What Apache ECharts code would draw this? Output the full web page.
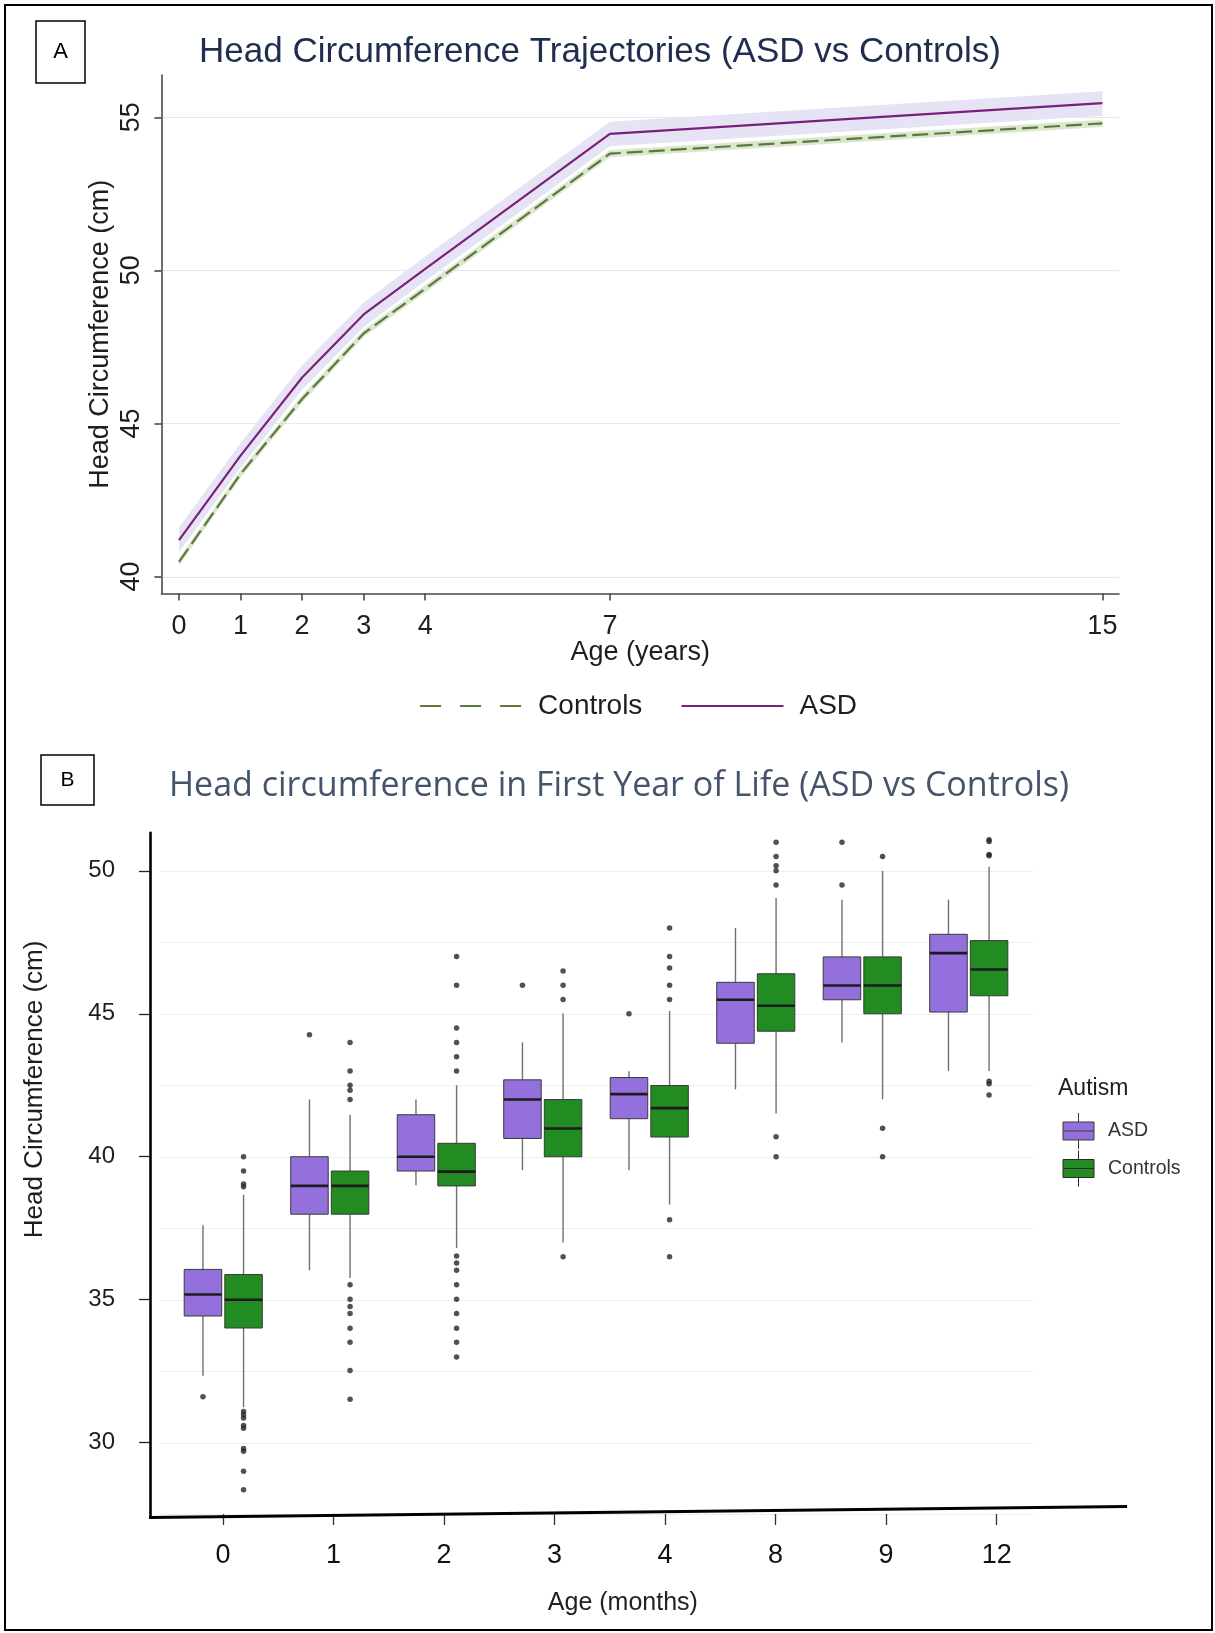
<!DOCTYPE html>
<html>
<head>
<meta charset="utf-8">
<script src="https://cdn.jsdelivr.net/npm/echarts@6/dist/echarts.min.js"></script>
<style>
  html, body { margin: 0; padding: 0; background: #fff; }
  #chart { width: 1215px; height: 1633px; }
</style>
</head>
<body>
<div id="chart"></div>
<script>
// ---- Panel A: head circumference trajectories by age (years) ----
const ageYears  = [0, 1, 2, 3, 4, 7, 15];
const asdMean   = [41.19, 43.95, 46.5, 48.56, 50.05, 54.46, 55.46];
const asdLow    = [40.8, 43.55, 46.1, 48.15, 49.65, 54.05, 55.05];
const asdHigh   = [41.6, 44.35, 46.9, 48.95, 50.45, 54.85, 55.85];
const ctrlMean  = [40.48, 43.35, 45.8, 47.94, 49.4, 53.81, 54.8];
const ctrlLow   = [40.36, 43.23, 45.68, 47.82, 49.28, 53.69, 54.68];
const ctrlHigh  = [40.6, 43.47, 45.92, 48.06, 49.52, 53.93, 54.92];
const yearTicks = [0, 1, 2, 3, 4, 7, 15];
const cmTicksA  = [40, 45, 50, 55];

// ---- Panel B: head circumference in the first year (months) ----
const monthCats = ['0', '1', '2', '3', '4', '8', '9', '12'];
// [lower whisker, Q1, median, Q3, upper whisker]
const asdBox = [
  [32.34, 34.43, 35.18, 36.06, 37.6],
  [36.03, 37.99, 38.98, 40.0, 42.0],
  [39.0, 39.5, 40.0, 41.47, 42.0],
  [39.53, 40.64, 42.0, 42.69, 44.0],
  [39.53, 41.33, 42.19, 42.77, 42.99],
  [42.36, 43.97, 45.49, 46.1, 48.0],
  [44.0, 45.49, 45.99, 46.99, 48.99],
  [43.0, 45.06, 47.12, 47.78, 48.99]
];
const ctrlBox = [
  [31.24, 34.01, 35.0, 35.88, 38.67],
  [35.76, 37.99, 38.98, 39.5, 41.47],
  [36.81, 38.98, 39.48, 40.47, 42.5],
  [37.0, 40.0, 40.99, 42.0, 45.01],
  [38.33, 40.69, 41.7, 42.49, 45.1],
  [41.51, 44.39, 45.28, 46.4, 49.05],
  [42.01, 45.0, 45.99, 46.99, 50.0],
  [43.0, 45.63, 46.55, 47.56, 50.14]
];
// [category index, value]
const asdOutliers = [
  [0, 31.61], [1, 44.27], [3, 46.0], [4, 45.0], [6, 51.0], [6, 49.5]
];
const ctrlOutliers = [
  [0, 40.0], [0, 39.5], [0, 39.05], [0, 38.95], [0, 31.09], [0, 30.98], [0, 30.86],
  [0, 30.6], [0, 30.5], [0, 29.8], [0, 29.7], [0, 29.0], [0, 28.35],
  [1, 44.0], [1, 43.0], [1, 42.5], [1, 42.33], [1, 42.0], [1, 35.52], [1, 35.02],
  [1, 34.76], [1, 34.52], [1, 34.0], [1, 33.51], [1, 32.52], [1, 31.52],
  [2, 47.0], [2, 46.0], [2, 44.5], [2, 44.0], [2, 43.5], [2, 43.0], [2, 36.53],
  [2, 36.28], [2, 36.03], [2, 35.52], [2, 35.02], [2, 34.52], [2, 34.0], [2, 33.51], [2, 33.0],
  [3, 46.5], [3, 46.0], [3, 45.5], [3, 36.5],
  [4, 48.0], [4, 47.0], [4, 46.6], [4, 46.0], [4, 45.5], [4, 37.8], [4, 36.5],
  [5, 51.0], [5, 50.5], [5, 50.18], [5, 50.0], [5, 49.5], [5, 40.7], [5, 40.0],
  [6, 50.5], [6, 41.0], [6, 40.0],
  [7, 51.09], [7, 51.03], [7, 50.57], [7, 50.53], [7, 42.64], [7, 42.55], [7, 42.16]
];
const cmTicksB = [30, 35, 40, 45, 50];
const cmGridB  = [27.5, 30, 32.5, 35, 37.5, 40, 42.5, 45, 47.5, 50];

const FONT = 'Liberation Sans, Arial, sans-serif';
const ASD_FILL = '#9370DB';
const CTRL_FILL = '#228B22';
const BOX_SHIFT_PX = 20.3;   // horizontal offset of each group's box from the category centre
const BOX_WIDTH_PX = 37.5;

// Shaded confidence band drawn as one polygon through all points
function bandItem(fill) {
  return function (params, api) {
    if (params.dataIndexInside !== 0) return null;
    const n = params.dataInsideLength;
    const pts = [];
    for (let k = 0; k < n; k++) pts.push(api.coord([api.value(0, k), api.value(2, k)]));
    for (let k = n - 1; k >= 0; k--) pts.push(api.coord([api.value(0, k), api.value(1, k)]));
    return { type: 'polygon', shape: { points: pts }, style: { fill: fill }, silent: true };
  };
}

// Horizontal reference line spanning the plot area
function gridLineItem(color) {
  return function (params, api) {
    const cs = params.coordSys;
    const y = Math.round(api.coord([api.value(0), api.value(1)])[1]) + 0.5;
    return { type: 'line', shape: { x1: cs.x, y1: y, x2: cs.x + cs.width, y2: y },
             style: { stroke: color, lineWidth: 1 }, silent: true };
  };
}

// Box-and-whisker glyph for one group at one age
function boxItem(fill, side) {
  return function (params, api) {
    const i = api.value(0);
    const cx = api.coord([i, 30])[0] + side * BOX_SHIFT_PX;
    const w = BOX_WIDTH_PX;
    const y = k => api.coord([i, api.value(k)])[1];
    const yLo = y(1), yQ1 = y(2), yMed = y(3), yQ3 = y(4), yHi = y(5);
    return {
      type: 'group',
      children: [
        { type: 'line', shape: { x1: cx, y1: yHi, x2: cx, y2: yQ3 }, style: { stroke: '#707070', lineWidth: 1.4 } },
        { type: 'line', shape: { x1: cx, y1: yQ1, x2: cx, y2: yLo }, style: { stroke: '#707070', lineWidth: 1.4 } },
        { type: 'rect', shape: { x: cx - w / 2, y: yQ3, width: w, height: yQ1 - yQ3 },
          style: { fill: fill, stroke: '#3a3a3a', lineWidth: 1 } },
        { type: 'line', shape: { x1: cx - w / 2, y1: yMed, x2: cx + w / 2, y2: yMed },
          style: { stroke: '#1c1c1c', lineWidth: 2.6 } }
      ]
    };
  };
}

const boxIcon = 'path://M15.5,0L15.5,9M0,9L31,9L31,27L0,27ZM0,18L31,18M15.5,27L15.5,36';

const option = {
  animation: false,
  backgroundColor: '#ffffff',
  textStyle: { fontFamily: FONT },
  grid: [
    { left: 161.4, top: 75, width: 957.6, height: 518.4, outerBoundsMode: 'none' },
    { left: 160, top: 832.8, width: 873, height: 684.2, outerBoundsMode: 'none' },
    { left: 167.8, top: 832.8, width: 884.1, height: 681.2, outerBoundsMode: 'none' }
  ],
  xAxis: [
    {
      gridIndex: 0, type: 'value', min: -0.286, max: 15.27,
      axisLine: { show: true, onZero: false, lineStyle: { color: '#4a4a4a', width: 1.6 } },
      axisTick: { show: true, customValues: yearTicks, length: 7, lineStyle: { color: '#4a4a4a', width: 1.6 } },
      axisLabel: { show: true, customValues: yearTicks, fontSize: 27, color: '#1e1e1e', margin: 20, fontFamily: FONT },
      splitLine: { show: false },
      name: 'Age (years)', nameLocation: 'middle', nameGap: 46, nameMoveOverlap: false,
      nameTextStyle: { fontSize: 27, color: '#1e1e1e', fontFamily: FONT }
    },
    { gridIndex: 1, type: 'value', min: -0.594, max: 7.603, show: false },
    {
      gridIndex: 2, type: 'category', data: monthCats, boundaryGap: true,
      axisLine: { show: false },
      axisTick: { show: true, alignWithLabel: true, length: 11, lineStyle: { color: '#333', width: 1.3 } },
      axisLabel: { fontSize: 27, color: '#111', margin: 28, fontFamily: FONT },
      splitLine: { show: false },
      name: 'Age (months)', nameLocation: 'middle', nameGap: 77, nameMoveOverlap: false,
      nameTextStyle: { fontSize: 25, color: '#222', fontFamily: FONT, padding: [0, 0, 0, 26] }
    }
  ],
  yAxis: [
    {
      gridIndex: 0, type: 'value', min: 39.45, max: 56.38,
      axisLine: { show: true, onZero: false, lineStyle: { color: '#4a4a4a', width: 1.6 } },
      axisTick: { show: true, customValues: cmTicksA, length: 7, lineStyle: { color: '#4a4a4a', width: 1.6 } },
      axisLabel: { show: true, customValues: cmTicksA, rotate: 90, fontSize: 27, color: '#1e1e1e', margin: 16, fontFamily: FONT },
      splitLine: { show: false },
      name: 'Head Circumference (cm)', nameLocation: 'middle', nameGap: 47, nameMoveOverlap: false,
      nameTextStyle: { fontSize: 27, color: '#1e1e1e', fontFamily: FONT }
    },
    {
      gridIndex: 1, type: 'value', min: 27.4, max: 51.33, offset: 10,
      axisLine: { show: true, onZero: false, lineStyle: { color: '#000', width: 2.6 } },
      axisTick: { show: true, customValues: cmTicksB, length: 11, lineStyle: { color: '#222', width: 1.3 } },
      axisLabel: { show: true, customValues: cmTicksB, fontSize: 24, color: '#1e1e1e', margin: 35, fontFamily: FONT },
      splitLine: { show: false },
      name: 'Head Circumference (cm)', nameLocation: 'middle', nameGap: 102, nameMoveOverlap: false,
      nameTextStyle: { fontSize: 26, color: '#1e1e1e', fontFamily: FONT, padding: [0, 0, 0, 171] }
    },
    { gridIndex: 2, type: 'value', min: 0, max: 1, show: false }
  ],
  legend: [
    {
      orient: 'horizontal', left: 414, top: 687,
      itemWidth: 102, itemHeight: 14, itemGap: 38,
      data: [
        { name: 'Controls', lineStyle: { type: [21, 19], width: 2.2 }, itemStyle: { opacity: 0 } },
        { name: 'ASD', lineStyle: { width: 2.2 }, itemStyle: { opacity: 0 } }
      ],
      textStyle: { fontSize: 28, color: '#1e1e1e', fontFamily: FONT, padding: [0, 0, 0, 11] }
    },
    {
      orient: 'vertical', left: 1057.5, top: 1107.5,
      itemWidth: 31, itemHeight: 36, itemGap: 0.5,
      data: [
        { name: 'ASD box', icon: boxIcon, itemStyle: { color: ASD_FILL, borderColor: '#3a3a3a', borderWidth: 1 } },
        { name: 'Controls box', icon: boxIcon, itemStyle: { color: CTRL_FILL, borderColor: '#2a2a2a', borderWidth: 1 } }
      ],
      formatter: name => name.replace(' box', ''),
      textStyle: { fontSize: 19.5, color: '#333', fontFamily: FONT, padding: [0, 0, 0, 9] }
    }
  ],
  series: [
    // Panel A
    { type: 'custom', name: 'gridA', xAxisIndex: 0, yAxisIndex: 0, z: 0,
      renderItem: gridLineItem('#e6e7ec'), data: cmTicksA.map(v => [0, v]), silent: true },
    { type: 'custom', name: 'ASD band', xAxisIndex: 0, yAxisIndex: 0, z: 1,
      renderItem: bandItem('#e5e3f4'), data: ageYears.map((a, i) => [a, asdLow[i], asdHigh[i]]), silent: true },
    { type: 'custom', name: 'Controls band', xAxisIndex: 0, yAxisIndex: 0, z: 1,
      renderItem: bandItem('#dce7d0'), data: ageYears.map((a, i) => [a, ctrlLow[i], ctrlHigh[i]]), silent: true },
    { type: 'line', name: 'Controls', xAxisIndex: 0, yAxisIndex: 0, z: 3,
      data: ageYears.map((a, i) => [a, ctrlMean[i]]), symbol: 'none',
      itemStyle: { color: '#5b7a3a' },
      lineStyle: { color: '#5b7a3a', width: 2.2, type: [16, 6] } },
    { type: 'line', name: 'ASD', xAxisIndex: 0, yAxisIndex: 0, z: 3,
      data: ageYears.map((a, i) => [a, asdMean[i]]), symbol: 'none',
      itemStyle: { color: '#7a2179' },
      lineStyle: { color: '#7a2179', width: 2.2 } },
    // Panel B
    { type: 'custom', name: 'gridB', xAxisIndex: 1, yAxisIndex: 1, z: 0,
      renderItem: gridLineItem('#eeeeee'), data: cmGridB.map(v => [0, v]), silent: true },
    { type: 'custom', name: 'ASD box', xAxisIndex: 1, yAxisIndex: 1, z: 2,
      itemStyle: { color: ASD_FILL },
      renderItem: boxItem(ASD_FILL, -1), encode: { x: 0, y: [1, 2, 3, 4, 5] },
      data: asdBox.map((b, i) => [i].concat(b)) },
    { type: 'custom', name: 'Controls box', xAxisIndex: 1, yAxisIndex: 1, z: 2,
      itemStyle: { color: CTRL_FILL },
      renderItem: boxItem(CTRL_FILL, 1), encode: { x: 0, y: [1, 2, 3, 4, 5] },
      data: ctrlBox.map((b, i) => [i].concat(b)) },
    { type: 'scatter', name: 'ASD outliers', xAxisIndex: 1, yAxisIndex: 1, z: 3,
      symbol: 'circle', symbolSize: 5.5, symbolOffset: [-BOX_SHIFT_PX, 0],
      itemStyle: { color: '#262626' }, data: asdOutliers },
    { type: 'scatter', name: 'Controls outliers', xAxisIndex: 1, yAxisIndex: 1, z: 3,
      symbol: 'circle', symbolSize: 5.5, symbolOffset: [BOX_SHIFT_PX, 0],
      itemStyle: { color: '#262626' }, data: ctrlOutliers }
  ],
  graphic: [
    { type: 'rect', shape: { x: 5, y: 5, width: 1207, height: 1625 },
      style: { fill: 'none', stroke: '#000', lineWidth: 2 }, silent: true },
    { type: 'rect', shape: { x: 36, y: 21, width: 49, height: 62 },
      style: { fill: 'none', stroke: '#000', lineWidth: 1.5 }, silent: true },
    { type: 'text', x: 60.5, y: 52,
      style: { text: 'A', fontSize: 22, fontFamily: FONT, fill: '#000', textAlign: 'center', textVerticalAlign: 'middle' } },
    { type: 'text', x: 600, y: 52,
      style: { text: 'Head Circumference Trajectories (ASD vs Controls)', fontSize: 35, fontFamily: FONT,
               fill: '#1f2d4f', textAlign: 'center', textVerticalAlign: 'middle' } },
    { type: 'rect', shape: { x: 41, y: 755, width: 53, height: 50 },
      style: { fill: 'none', stroke: '#000', lineWidth: 1.5 }, silent: true },
    { type: 'text', x: 67.5, y: 780,
      style: { text: 'B', fontSize: 21, fontFamily: FONT, fill: '#000', textAlign: 'center', textVerticalAlign: 'middle' } },
    { type: 'text', x: 619, y: 786,
      style: { text: 'Head circumference in First Year of Life (ASD vs Controls)', fontSize: 34,
               fontFamily: 'Open Sans, Lato, sans-serif', fill: '#44546a', textAlign: 'center', textVerticalAlign: 'middle' } },
    { type: 'text', x: 1058, y: 1089,
      style: { text: 'Autism', fontSize: 23, fontFamily: FONT, fill: '#1e1e1e', textAlign: 'left', textVerticalAlign: 'middle' } },
    // slightly tilted baseline of panel B
    { type: 'line', shape: { x1: 149, y1: 1517.5, x2: 1127, y2: 1506.5 },
      style: { stroke: '#000', lineWidth: 3 }, silent: true, z: 10 }
  ]
};

const chart = echarts.init(document.getElementById('chart'), null, { renderer: 'canvas' });
chart.setOption(option);
</script>
</body>
</html>
